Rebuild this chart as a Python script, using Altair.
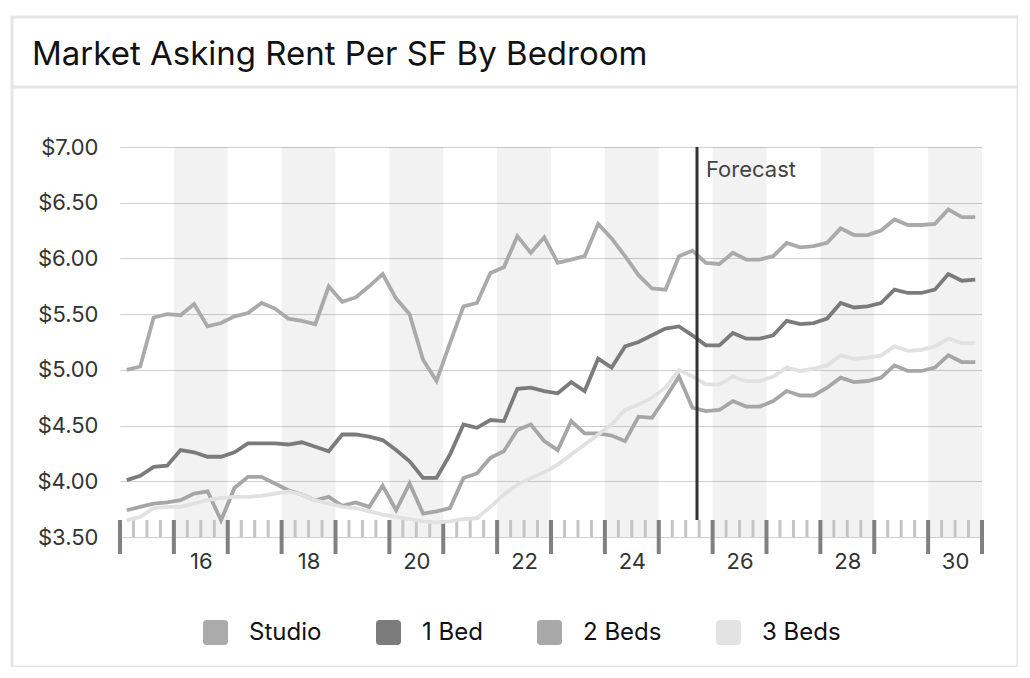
import altair as alt
import pandas as pd

FONT = "Inter"
title_text = "Market Asking Rent Per SF By Bedroom"
forecast_label = "Forecast"
series_names = ["Studio", "1 Bed", "2 Beds", "3 Beds"]
line_colors = ["#aaaaaa", "#7b7b7b", "#a6a6a6", "#e1e1e1"]
swatch_colors = ["#ababab", "#7b7b7b", "#a8a8a8", "#e3e3e3"]
years = list(range(2015, 2031))
quarter_labels = [f"{y}Q{q}" for y in years for q in (1, 2, 3, 4)]

studio = [5.00, 5.03, 5.47, 5.50, 5.49, 5.59, 5.39, 5.42, 5.48, 5.51, 5.60, 5.55, 5.46, 5.44, 5.41, 5.75,
          5.61, 5.65, 5.75, 5.86, 5.64, 5.50, 5.09, 4.90, 5.24, 5.57, 5.60, 5.87, 5.92, 6.20, 6.05, 6.19,
          5.96, 5.99, 6.02, 6.31, 6.18, 6.02, 5.85, 5.73, 5.72, 6.02, 6.07, 5.96, 5.95, 6.05, 5.99, 5.99,
          6.02, 6.14, 6.10, 6.11, 6.14, 6.27, 6.21, 6.21, 6.25, 6.35, 6.30, 6.30, 6.31, 6.44, 6.37, 6.37]
one_bed = [4.01, 4.05, 4.13, 4.14, 4.28, 4.26, 4.22, 4.22, 4.26, 4.34, 4.34, 4.34, 4.33, 4.35, 4.31, 4.27,
           4.42, 4.42, 4.40, 4.37, 4.28, 4.18, 4.03, 4.03, 4.24, 4.51, 4.48, 4.55, 4.54, 4.83, 4.84, 4.81,
           4.79, 4.89, 4.81, 5.10, 5.02, 5.21, 5.25, 5.31, 5.37, 5.39, 5.31, 5.22, 5.22, 5.33, 5.28, 5.28,
           5.31, 5.44, 5.41, 5.42, 5.46, 5.60, 5.56, 5.57, 5.60, 5.72, 5.69, 5.69, 5.72, 5.86, 5.80, 5.81]
two_beds = [3.74, 3.77, 3.80, 3.81, 3.83, 3.89, 3.91, 3.65, 3.94, 4.04, 4.04, 3.98, 3.92, 3.88, 3.83, 3.86,
            3.78, 3.81, 3.77, 3.96, 3.74, 3.98, 3.71, 3.73, 3.76, 4.03, 4.07, 4.21, 4.27, 4.46, 4.51, 4.36,
            4.28, 4.54, 4.43, 4.43, 4.41, 4.36, 4.58, 4.57, 4.75, 4.94, 4.66, 4.63, 4.64, 4.72, 4.67, 4.67,
            4.72, 4.81, 4.77, 4.77, 4.84, 4.93, 4.89, 4.90, 4.93, 5.04, 4.99, 4.99, 5.02, 5.13, 5.07, 5.07]
three_beds = [3.65, 3.68, 3.76, 3.77, 3.77, 3.80, 3.83, 3.85, 3.86, 3.86, 3.87, 3.89, 3.91, 3.88, 3.83, 3.80,
              3.77, 3.76, 3.73, 3.70, 3.68, 3.66, 3.64, 3.63, 3.64, 3.66, 3.67, 3.77, 3.88, 3.97, 4.03, 4.08,
              4.15, 4.24, 4.33, 4.42, 4.51, 4.64, 4.69, 4.75, 4.84, 5.00, 4.94, 4.87, 4.87, 4.94, 4.90, 4.90,
              4.94, 5.02, 4.99, 5.01, 5.04, 5.13, 5.10, 5.11, 5.13, 5.21, 5.17, 5.18, 5.21, 5.28, 5.24, 5.24]

shaded_years = [2016, 2018, 2020, 2022, 2024, 2026, 2028, 2030]
year_edges = list(range(2015, 2032))
y_ticks = [3.5, 4.0, 4.5, 5.0, 5.5, 6.0, 6.5, 7.0]
x_label_pos = [2016.5, 2018.5, 2020.5, 2022.5, 2024.5, 2026.5, 2028.5, 2030.5]
forecast_at = 2025.71

W, H = 862, 390
TICK = 17

rows = []
for name, vals in zip(series_names, [studio, one_bed, two_beds, three_beds]):
    for ql, v in zip(quarter_labels, vals):
        yr, q = int(ql[:4]), int(ql[-1])
        rows.append({"series": name, "quarter": ql, "t": yr + (q - 0.5) / 4, "value": v})
df = pd.DataFrame(rows)

bands_df = pd.DataFrame({"t": shaded_years})
major_df = pd.DataFrame({"t": year_edges})
minor_df = pd.DataFrame({"t": [y + q / 4 for y in years for q in (1, 2, 3)]})
one_df = pd.DataFrame({"label": [title_text]})
fc_df = pd.DataFrame({"t": [forecast_at], "label": [forecast_label]})
leg_df = pd.DataFrame({"series": series_names})

x_scale = alt.Scale(domain=[year_edges[0], year_edges[-1]], nice=False, zero=False)
y_scale = alt.Scale(domain=[y_ticks[0], y_ticks[-1]], nice=False, zero=False)
x_axis = alt.Axis(title=None, values=x_label_pos,
                  labelExpr="'' + (floor(datum.value) % 100)",
                  ticks=False, grid=False, domain=True, domainColor="#d0d0d0", domainWidth=1,
                  labelFont=FONT, labelFontSize=22, labelColor="#333333", labelPadding=14,
                  labelFlush=False, labelOverlap=False)
y_axis = alt.Axis(title=None, values=y_ticks, format="$.2f", ticks=False, domain=False,
                  grid=True, gridColor="#cfcfcf", gridWidth=1,
                  labelFont=FONT, labelFontSize=22, labelColor="#333333", labelPadding=22)


def X(field="t:Q"):
    return alt.X(field, scale=x_scale, axis=x_axis)


bands = alt.Chart(bands_df).mark_rect(color="#000000", opacity=0.05).transform_calculate(
    t2="datum.t + 1").encode(
    x=X(), x2="t2:Q",
    y=alt.Y(datum=y_ticks[-1], scale=y_scale, axis=y_axis),
    y2=alt.Y2(datum=y_ticks[0]),
)

minor = alt.Chart(minor_df).mark_rule(color="#c4c4c4", strokeWidth=3).encode(
    x=X(), y=alt.value(H - TICK), y2=alt.value(H))

major = alt.Chart(major_df).mark_rule(color="#808080", strokeWidth=4).encode(
    x=X(), y=alt.value(H - TICK), y2=alt.value(H + TICK))

# stroke scale listed in reverse order so that its (hidden) legend is not merged with the colour legend
lines = alt.Chart(df).mark_line(strokeWidth=3.8).encode(
    x=X(),
    y=alt.Y("value:Q", scale=y_scale, axis=y_axis),
    stroke=alt.Stroke("series:N", scale=alt.Scale(domain=series_names[::-1], range=line_colors[::-1]),
                      legend=None),
    detail="series:N",
)

fc_rule = alt.Chart(fc_df).mark_rule(color="#333333", strokeWidth=3).encode(
    x=X(), y=alt.value(0), y2=alt.value(H - TICK))

fc_text = alt.Chart(fc_df).mark_text(align="left", baseline="alphabetic", dx=9, font=FONT,
                                     fontSize=22, color="#444444").encode(
    x=X(), y=alt.value(30), text="label:N")

rounded = ("M-1,-0.7 Q-1,-1 -0.7,-1 L0.7,-1 Q1,-1 1,-0.7 L1,0.7 "
           "Q1,1 0.7,1 L-0.7,1 Q-1,1 -1,0.7 Z")
legend_pts = alt.Chart(leg_df).mark_point(filled=True, opacity=0).encode(
    x=alt.X(datum=forecast_at, scale=x_scale, axis=x_axis),
    y=alt.Y(datum=y_ticks[-1], scale=y_scale, axis=y_axis),
    color=alt.Color("series:N", scale=alt.Scale(domain=series_names, range=swatch_colors),
                    sort=series_names,
                    legend=alt.Legend(title=None, orient="none", legendX=83, legendY=473,
                                      direction="horizontal", columns=4, symbolType=rounded,
                                      symbolSize=625, symbolStrokeWidth=0, symbolOpacity=1,
                                      labelFont=FONT, labelFontSize=24, labelColor="#111111",
                                      labelOffset=21, columnPadding=54, padding=0)),
)

card = alt.Chart(one_df).mark_rect(fillOpacity=0, stroke="#e6e6e6", strokeWidth=3).encode(
    x=alt.value(-108), x2=alt.value(898), y=alt.value(-130), y2=alt.value(520))
sep = alt.Chart(one_df).mark_rule(color="#e6e6e6", strokeWidth=3).encode(
    x=alt.value(-108), x2=alt.value(898), y=alt.value(-60))
title = alt.Chart(one_df).mark_text(align="left", baseline="alphabetic", font=FONT, fontSize=33,
                                    color="#111111").encode(
    x=alt.value(-88), y=alt.value(-82), text="label:N")

chart = alt.layer(bands, minor, major, lines, fc_rule, fc_text, legend_pts, card, sep, title).properties(
    width=W, height=H,
    autosize=alt.AutoSizeParams(type="none"),
    padding={"left": 112, "top": 139, "right": 36, "bottom": 130},
    background="white",
).configure_view(stroke=None)

chart.save("out.html", embed_options={"renderer": "svg", "actions": False})
